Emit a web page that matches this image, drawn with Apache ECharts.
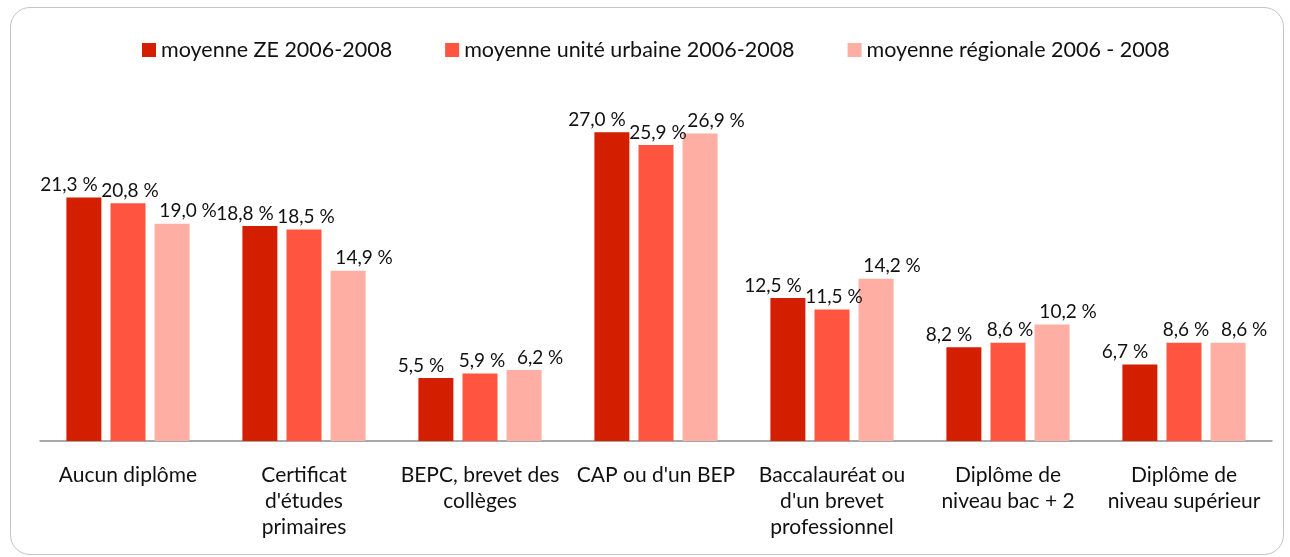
<!DOCTYPE html>
<html>
<head>
<meta charset="utf-8">
<script src="https://cdn.jsdelivr.net/npm/echarts@6/dist/echarts.min.js"></script>
<style>
html,body{margin:0;padding:0;background:#fff;}
#frame{position:absolute;left:10px;top:7px;width:1274px;height:548px;border:1.5px solid #c4c4c4;border-radius:20px;box-sizing:border-box;}
#chart{position:absolute;left:0;top:0;width:1290px;height:557px;}
</style>
</head>
<body>
<div id="frame"></div>
<div id="chart"></div>
<script>
const categories = [
  "Aucun diplôme",
  "Certificat\nd'études\nprimaires",
  "BEPC, brevet des\ncollèges",
  "CAP ou d'un BEP",
  "Baccalauréat ou\nd'un brevet\nprofessionnel",
  "Diplôme de\nniveau bac + 2",
  "Diplôme de\nniveau supérieur"
];
const seriesNames = ["moyenne ZE 2006-2008", "moyenne unité urbaine 2006-2008", "moyenne régionale 2006 - 2008"];
const zeValues = [21.3, 18.8, 5.5, 27.0, 12.5, 8.2, 6.7];
const uuValues = [20.8, 18.5, 5.9, 25.9, 11.5, 8.6, 8.6];
const regValues = [19.0, 14.9, 6.2, 26.9, 14.2, 10.2, 8.6];
const colors = ["#d41e00", "#ff5540", "#ffaea3"];

const font = "Lato, 'Open Sans', sans-serif";
const chart = echarts.init(document.getElementById('chart'));
function mk(name, data, color, dx) {
  return {
    name: name, type: 'bar', data: data, barWidth: 35, barGap: '26%',
    itemStyle: { color: color },
    label: {
      show: true, position: 'top', distance: 3, offset: [dx, 0],
      fontFamily: font, fontSize: 19, color: '#111',
      formatter: p => p.value.toFixed(1).replace('.', ',') + ' %'
    }
  };
}
chart.setOption({
  animation: false,
  color: colors,
  legend: {
    top: 34, left: 137,
    itemWidth: 14, itemHeight: 14, itemGap: 53,
    icon: 'rect',
    textStyle: { fontFamily: font, fontSize: 21.5, color: '#111' },
    data: seriesNames
  },
  grid: { left: 40, right: 18, top: 98, bottom: 116, containLabel: false },
  xAxis: {
    type: 'category', data: categories,
    axisLine: { lineStyle: { color: '#8c8c8c', width: 1.5 } },
    axisTick: { show: false },
    axisLabel: { interval: 0, margin: 21, fontFamily: font, fontSize: 21, color: '#111', lineHeight: 26 }
  },
  yAxis: { type: 'value', min: 0, max: 30, show: false, splitLine: { show: false } },
  series: [
    mk(seriesNames[0], zeValues, colors[0], -15),
    mk(seriesNames[1], uuValues, colors[1], 2),
    mk(seriesNames[2], regValues, colors[2], 16)
  ]
});
</script>
</body>
</html>
